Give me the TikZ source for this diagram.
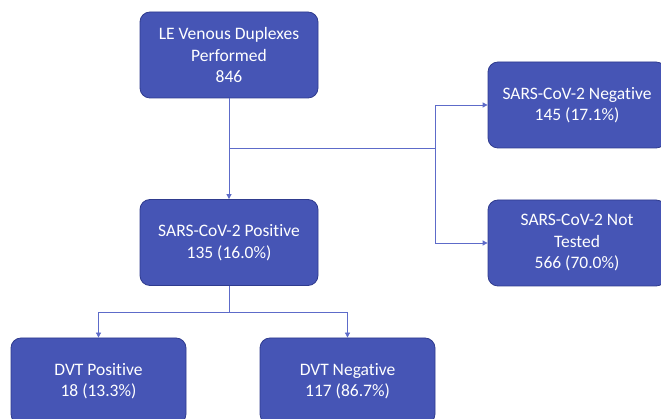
\documentclass[tikz,border=0pt]{standalone}
\usepackage{fontspec}
\setmainfont[Ligatures={NoCommon}]{Carlito}
\usetikzlibrary{arrows.meta}
\definecolor{boxfill}{HTML}{4655B5}
\definecolor{boxline}{HTML}{2F3B8E}
\definecolor{linkline}{HTML}{5D6BC9}
\begin{document}
\begin{tikzpicture}[x=1pt,y=-1pt]
            \tikzset{
                flowbox/.style={draw=boxline,fill=boxfill,line width=0.8pt,rounded corners=10pt,
                    minimum width=178pt,minimum height=86pt,align=center,text=white,
                    font=\fontsize{17.5}{21.5}\selectfont},
                link/.style={draw=linkline,line width=0.8pt},
                linkarrow/.style={link,-{Triangle[length=5pt,width=5pt]}},}
            \useasboundingbox (0,0) rectangle (661,419);
            \clip (0,0) rectangle (661,419);
            \node[flowbox] (total) at (229,55) {LE Venous Duplexes\\Performed\\846};
            \node[flowbox] (covpos) at (229,242.5) {SARS-CoV-2 Positive\\135 (16.0\%)};
            \node[flowbox] (covneg) at (577,105) {SARS-CoV-2 Negative\\145 (17.1\%)};
            \node[flowbox] (covnt) at (577,243) {SARS-CoV-2 Not\\Tested\\566 (70.0\%)};
            \node[flowbox,minimum width=175pt] (dvtpos) at (98.5,381) {DVT Positive\\18 (13.3\%)};
            \node[flowbox,minimum width=175pt] (dvtneg) at (347.5,381) {DVT Negative\\117 (86.7\%)};
            % split points
            \coordinate (split) at (229,148);
            \coordinate (branch) at (435,148);
            \coordinate (dvtsplit) at (229,312);
            \draw[linkarrow] (total.south) -- (covpos.north);
            \draw[link] (split) -- (branch);
            \draw[linkarrow] (branch) |- (covneg.west);
            \draw[linkarrow] (branch) |- (covnt.west);
            \draw[link] (covpos.south) -- (dvtsplit);
            \draw[linkarrow] (dvtsplit) -| (dvtpos.north);
            \draw[linkarrow] (dvtsplit) -| (dvtneg.north);
        \end{tikzpicture}
\end{document}
